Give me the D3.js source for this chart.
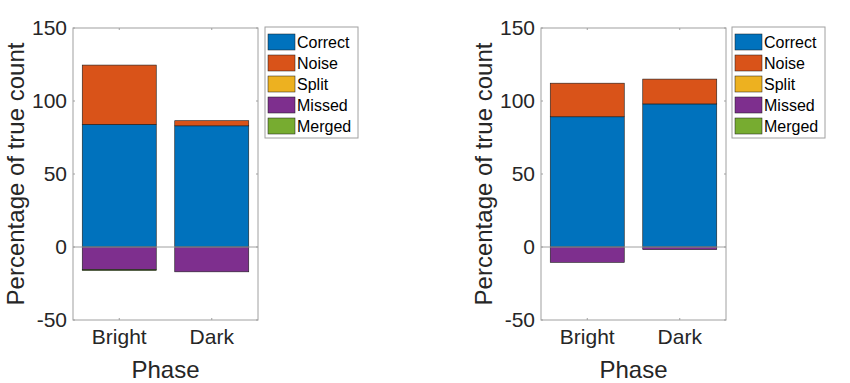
<!DOCTYPE html>
<html><head><meta charset="utf-8">
<script src="https://cdn.jsdelivr.net/npm/d3@7"></script>
<style>body{margin:0;background:#fff}svg{display:block;font-family:"Liberation Sans",Arial,Helvetica,sans-serif}</style>
</head><body><svg id="c" width="850" height="383"></svg>
<script>
const categories = ["Bright", "Dark"];
const seriesNames = ["Correct", "Noise", "Split", "Missed", "Merged"];
const seriesColors = ["#0072BD", "#D95319", "#EDB120", "#7E2F8E", "#77AC30"];
const yTicks = [-50, 0, 50, 100, 150];
// left panel
const leftCorrect = [84, 83];
const leftNoise = [40.6, 3.5];
const leftSplit = [0, 0];
const leftMissed = [-15.5, -17];
const leftMerged = [-0.6, 0];
// right panel
const rightCorrect = [89.2, 98];
const rightNoise = [23, 17];
const rightSplit = [0, 0];
const rightMissed = [-10.5, -1.8];
const rightMerged = [0, 0];

(function () {
const svg = d3.select("#c");
const panels = [
  {x0: 73, x1: 258, series: [leftCorrect, leftNoise, leftSplit, leftMissed, leftMerged], legendX: 265},
  {x0: 541, x1: 726, series: [rightCorrect, rightNoise, rightSplit, rightMissed, rightMerged], legendX: 732}
];
const yTop = 28, yBottom = 320;
const axisColor = "#a0a0a0";

panels.forEach(p => {
  const g = svg.append("g");
  const y = d3.scaleLinear().domain([-50, 150]).range([yBottom, yTop]);
  const x = d3.scaleBand().domain(categories).range([p.x0, p.x1]).paddingInner(0.2).paddingOuter(0.1);

  categories.forEach((c, ci) => {
    let pos = 0, neg = 0;
    p.series.forEach((s, si) => {
      const v = s[ci];
      if (v === 0) return;
      let a, b;
      if (v > 0) { a = pos; b = pos + v; pos = b; } else { a = neg; b = neg + v; neg = b; }
      g.append("rect")
        .attr("x", x(c)).attr("width", x.bandwidth())
        .attr("y", y(Math.max(a, b))).attr("height", Math.abs(y(a) - y(b)))
        .attr("fill", seriesColors[si]).attr("stroke", "#1a1a1a").attr("stroke-width", 0.6);
    });
  });
  g.append("line").attr("x1", p.x0).attr("x2", p.x1).attr("y1", y(0)).attr("y2", y(0))
    .attr("stroke", axisColor).attr("stroke-width", 1);

  g.append("rect").attr("x", p.x0).attr("y", yTop).attr("width", p.x1 - p.x0).attr("height", yBottom - yTop)
    .attr("fill", "none").attr("stroke", axisColor).attr("stroke-width", 1);

  const ya = g.append("g").attr("transform", `translate(${p.x0},0)`)
    .call(d3.axisLeft(y).tickValues(yTicks).tickFormat(d => String(d)).tickSize(0).tickPadding(6));
  ya.select(".domain").remove();
  ya.selectAll("text").attr("font-size", 21).attr("fill", "#262626").attr("font-family", "Liberation Sans, Arial, sans-serif");
  yTicks.forEach(t => {
    g.append("line").attr("x1", p.x0).attr("x2", p.x0 + 2).attr("y1", y(t)).attr("y2", y(t)).attr("stroke", axisColor);
    g.append("line").attr("x1", p.x1).attr("x2", p.x1 - 2).attr("y1", y(t)).attr("y2", y(t)).attr("stroke", axisColor);
  });
  const xa = g.append("g").attr("transform", `translate(0,${yBottom})`)
    .call(d3.axisBottom(x).tickSize(0).tickPadding(9));
  xa.select(".domain").remove();
  xa.selectAll("text").attr("font-size", 21).attr("fill", "#262626").attr("font-family", "Liberation Sans, Arial, sans-serif");
  categories.forEach(c => {
    const cx = x(c) + x.bandwidth() / 2;
    g.append("line").attr("x1", cx).attr("x2", cx).attr("y1", yBottom).attr("y2", yBottom - 2).attr("stroke", axisColor);
    g.append("line").attr("x1", cx).attr("x2", cx).attr("y1", yTop).attr("y2", yTop + 2).attr("stroke", axisColor);
  });

  g.append("text").attr("x", (p.x0 + p.x1) / 2).attr("y", 378).attr("text-anchor", "middle")
    .attr("font-size", 24).attr("fill", "#262626").text("Phase");
  g.append("text").attr("transform", `translate(${p.x0 - 49},${(yTop + yBottom) / 2}) rotate(-90)`)
    .attr("text-anchor", "middle").attr("font-size", 24).attr("fill", "#262626").text("Percentage of true count");

  const lg = g.append("g").attr("transform", `translate(${p.legendX},${yTop - 1})`);
  lg.append("rect").attr("width", 93).attr("height", 111).attr("fill", "#fff").attr("stroke", axisColor);
  seriesNames.forEach((n, i) => {
    const ey = 7 + i * 21;
    lg.append("rect").attr("x", 3).attr("y", ey).attr("width", 27).attr("height", 16)
      .attr("fill", seriesColors[i]).attr("stroke", "#1a1a1a").attr("stroke-width", 0.5);
    lg.append("text").attr("x", 32).attr("y", ey + 14).attr("font-size", 16).attr("fill", "#000").text(n);
  });
});
})();
</script></body></html>
